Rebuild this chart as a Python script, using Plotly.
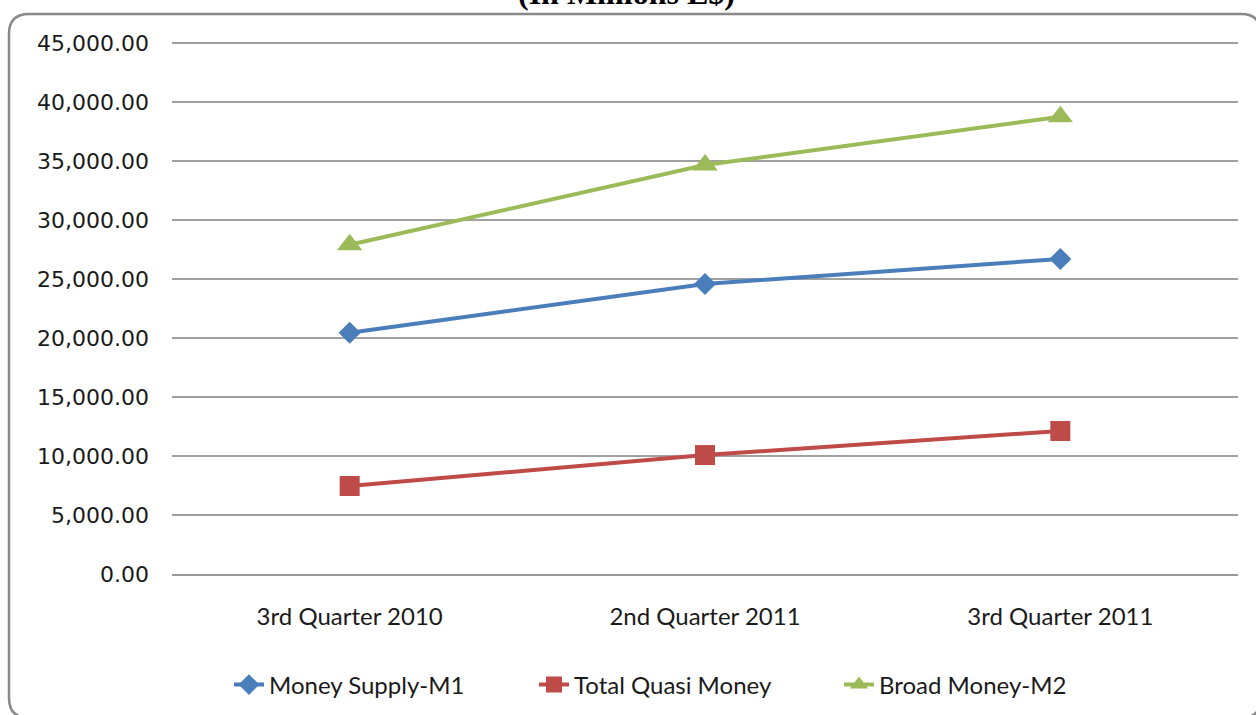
import plotly.graph_objects as go

W, H = 1256, 715

categories = ["3rd Quarter 2010", "2nd Quarter 2011", "3rd Quarter 2011"]
money_supply_m1 = [20450, 24580, 26700]
total_quasi_money = [7460, 10080, 12120]
broad_money_m2 = [27900, 34660, 38750]
y_tickvals = [0, 5000, 10000, 15000, 20000, 25000, 30000, 35000, 40000, 45000]

def px(x):
    return x / W

def py(y):
    return 1 - y / H

fig = go.Figure()
fig.add_trace(go.Scatter(x=categories, y=money_supply_m1, name="Money Supply-M1",
                         mode="lines+markers",
                         line=dict(color="#4A7EBB", width=4),
                         marker=dict(symbol="diamond", size=17, color="#4A7EBB")))
fig.add_trace(go.Scatter(x=categories, y=total_quasi_money, name="Total Quasi Money",
                         mode="lines+markers",
                         line=dict(color="#BE4B48", width=4),
                         marker=dict(symbol="square", size=20, color="#BE4B48")))
fig.add_trace(go.Scatter(x=categories, y=broad_money_m2, name="Broad Money-M2",
                         mode="lines+markers",
                         line=dict(color="#9BBB59", width=4),
                         marker=dict(symbol="triangle-up", size=22, color="#9BBB59")))

# rounded chart border (partially cropped at right/bottom)
L, T, R, B, rad = 9, 14, 1261, 718, 20
path = (f"M {px(L+rad)},{py(T)} L {px(R-rad)},{py(T)} Q {px(R)},{py(T)} {px(R)},{py(T+rad)} "
        f"L {px(R)},{py(B-rad)} Q {px(R)},{py(B)} {px(R-rad)},{py(B)} "
        f"L {px(L+rad)},{py(B)} Q {px(L)},{py(B)} {px(L)},{py(B-rad)} "
        f"L {px(L)},{py(T+rad)} Q {px(L)},{py(T)} {px(L+rad)},{py(T)} Z")
fig.add_shape(type="path", path=path, xref="paper", yref="paper",
              line=dict(color="#888888", width=2.5), layer="above")

# title, cropped at the top edge as in the reference
fig.add_annotation(text="<b>(In Millions L$)</b>", xref="paper", yref="paper",
                   x=px(626), y=py(13), xanchor="center", yanchor="bottom",
                   showarrow=False,
                   font=dict(family="Liberation Serif", size=32, color="#000000"))

y_top = 45250
fig.update_layout(
    width=W, height=H,
    margin=dict(l=0, r=0, t=0, b=0, autoexpand=False),
    paper_bgcolor="white", plot_bgcolor="white",
    showlegend=True,
    legend=dict(orientation="h", x=px(229), y=py(685), xanchor="left", yanchor="middle",
                font=dict(family="Lato", size=24, color="#1a1a1a"),
                entrywidth=260, entrywidthmode="pixels",
                bgcolor="rgba(0,0,0,0)", itemclick=False),
    xaxis=dict(domain=[px(172), px(1238)], range=[-0.5, 2.5], type="category",
               showgrid=False, showline=True, linecolor="#999999", linewidth=1.5,
               ticks="", ticklabelstandoff=20,
               tickfont=dict(family="Lato", size=24, color="#1a1a1a"),
               zeroline=False, fixedrange=True),
    yaxis=dict(domain=[py(574), py(574 - 531 * y_top / 45000)], range=[0, y_top],
               tickvals=y_tickvals,
               tickformat=",.2f", showgrid=True, gridcolor="#a0a0a0", gridwidth=1.5,
               showline=False, zeroline=False, ticks="", ticklabelstandoff=22,
               tickfont=dict(family="DejaVu Sans", size=22, color="#1a1a1a"),
               fixedrange=True),
)

fig.write_html("out.html", config={"displayModeBar": False},
               post_script="document.body.style.margin='0';")
